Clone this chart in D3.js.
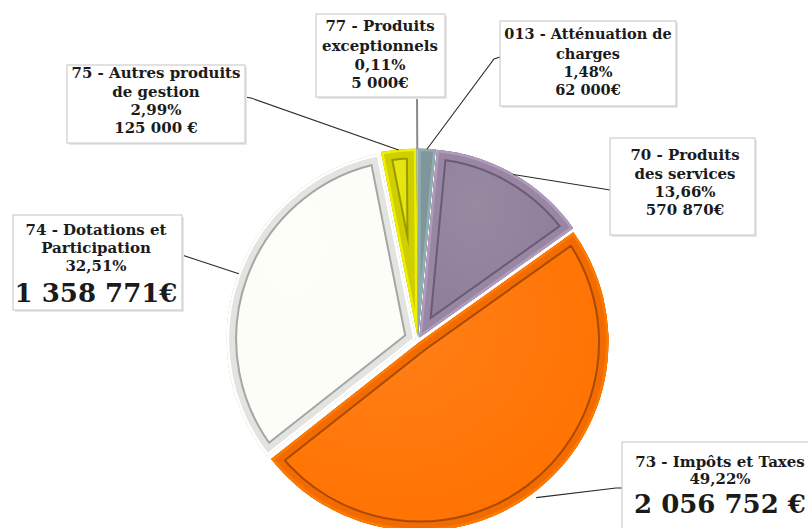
<!DOCTYPE html>
<html>
<head>
<meta charset="utf-8">
<script src="https://cdn.jsdelivr.net/npm/d3@7/dist/d3.min.js"></script>
<style>
  html, body { margin: 0; padding: 0; background: #fff; }
  svg { display: block; }
  text { font-family: "DejaVu Serif", "Liberation Serif", serif; font-weight: bold; fill: #1b1b1b; }
</style>
</head>
<body>
<svg id="chart" width="808" height="528"></svg>
<script>
// ---- data ----
const categoryLines = [
  ["013 - Atténuation de", "charges"],
  ["70 - Produits", "des services"],
  ["73 - Impôts et Taxes"],
  ["74 - Dotations et", "Participation"],
  ["75 - Autres produits", "de gestion"],
  ["77 - Produits", "exceptionnels"]
];
const categories = categoryLines.map(l => l.join(" "));
const values = [62000, 570870, 2056752, 1358771, 125000, 5000];
const percentLabels = ["1,48%", "13,66%", "49,22%", "32,51%", "2,99%", "0,11%"];
const amountLabels = ["62 000€", "570 870€", "2 056 752 €", "1 358 771€", "125 000 €", "5 000€"];

// ---- styles ----
const faceColors   = ["#71898c", "#8d7c97", "#ff7200", "#fdfdf8", "#e3e300", "#8e9c9c"];
const rimColors    = ["#7f979a", "#9886a2", "#f26b00", "#e2e4df", "#cfcf00", "#9aa8a8"];
const grooveColors = ["#566d70", "#6b5b76", "#a84a00", "#a3a8a4", "#9a9a00", "#6f7d7d"];

// ---- layout ----
const layout = [
  {x: 500, y: 21,  w: 176, h: 85, tx: 588, ys: [33, 53, 71, 89],  big: false, fs: 14.5, ax: 500, ay: 57,  ex: 494, ey: 59},
  {x: 610, y: 138, w: 145, h: 97, tx: 685, ys: [155, 174, 192, 210], big: false, fs: 15, ax: 610, ay: 190, ex: 604, ey: 189},
  {x: 622, y: 442, w: 200, h: 92, tx: 720, ys: [462, 479, 504], big: true, fs: 15, ax: 622, ay: 488, ex: 616, ey: 488},
  {x: 13,  y: 215, w: 169, h: 95, tx: 96,  ys: [230, 248, 266, 293], big: true, fs: 15, ax: 182, ay: 255, ex: 188, ey: 257},
  {x: 67,  y: 65,  w: 178, h: 78, tx: 156, ys: [73, 92, 110, 128], big: false, fs: 15, ax: 245, ay: 97,  ex: 251, ey: 98},
  {x: 316, y: 14,  w: 129, h: 83, tx: 380, ys: [26, 46, 65, 83],  big: false, fs: 15, ax: 417, ay: 97,  ex: 417, ey: 100}
];

const svg = d3.select("#chart");
const cx = 418, cy = 340, R = 189, explode = 2.5;

const arcs = d3.pie().sort(null).value(d => d)(values);
const arc = d3.arc().innerRadius(0).outerRadius(R);

const defs = svg.append("defs");
const gloss = defs.append("radialGradient").attr("id", "gloss")
  .attr("cx", "35%").attr("cy", "30%").attr("r", "75%");
gloss.append("stop").attr("offset", "0%").attr("stop-color", "#fff").attr("stop-opacity", 0.10);
gloss.append("stop").attr("offset", "100%").attr("stop-color", "#fff").attr("stop-opacity", 0);

const pieG = svg.append("g").attr("transform", `translate(${cx},${cy})`);

arcs.forEach((a, i) => {
  const mid = (a.startAngle + a.endAngle) / 2;
  const dx = Math.sin(mid) * explode, dy = -Math.cos(mid) * explode;
  const g = pieG.append("g").attr("transform", `translate(${dx},${dy})`);
  const d = arc(a);
  defs.append("clipPath").attr("id", "clip" + i).append("path").attr("d", d);
  const c = g.append("g").attr("clip-path", `url(#clip${i})`);
  c.append("path").attr("d", d).attr("fill", faceColors[i]);
  c.append("path").attr("d", d).attr("fill", "url(#gloss)");
  c.append("path").attr("d", d).attr("fill", "none").attr("stroke", grooveColors[i]).attr("stroke-width", 21).attr("stroke-linejoin", "round");
  c.append("path").attr("d", d).attr("fill", "none").attr("stroke", rimColors[i]).attr("stroke-width", 17).attr("stroke-linejoin", "round");
  c.append("path").attr("d", d).attr("fill", "none").attr("stroke", d3.color(rimColors[i]).brighter(0.4)).attr("stroke-width", 5).attr("stroke-linejoin", "round");
});

// leader lines
arcs.forEach((a, i) => {
  const L = layout[i];
  const mid = (a.startAngle + a.endAngle) / 2;
  const rr = R + (i === 2 ? 8 : 2);
  const px = cx + Math.sin(mid) * rr, py = cy - Math.cos(mid) * rr;
  svg.append("path")
    .attr("d", d3.line()([[L.ax, L.ay], [L.ex, L.ey], [px, py]]))
    .attr("fill", "none")
    .attr("stroke", i === 5 ? "#8a8a8a" : "#2a2a2a")
    .attr("stroke-width", i === 5 ? 2 : 1.1);
});

// label boxes
layout.forEach((L, i) => {
  const g = svg.append("g");
  g.append("rect").attr("x", L.x + 2).attr("y", L.y + 2).attr("width", L.w).attr("height", L.h)
    .attr("fill", "#e8e8e8");
  g.append("rect").attr("x", L.x).attr("y", L.y).attr("width", L.w).attr("height", L.h)
    .attr("fill", "#fff").attr("stroke", "#c4c4c4").attr("stroke-width", 1);
  const lines = categoryLines[i].concat([percentLabels[i], amountLabels[i]]);
  lines.forEach((t, k) => {
    const isAmount = k === lines.length - 1;
    g.append("text")
      .attr("x", L.tx).attr("y", L.ys[k])
      .attr("text-anchor", "middle")
      .attr("dominant-baseline", "central")
      .attr("font-size", (isAmount && L.big) ? 26 : L.fs)
      .text(t);
  });
});
</script>
</body>
</html>
